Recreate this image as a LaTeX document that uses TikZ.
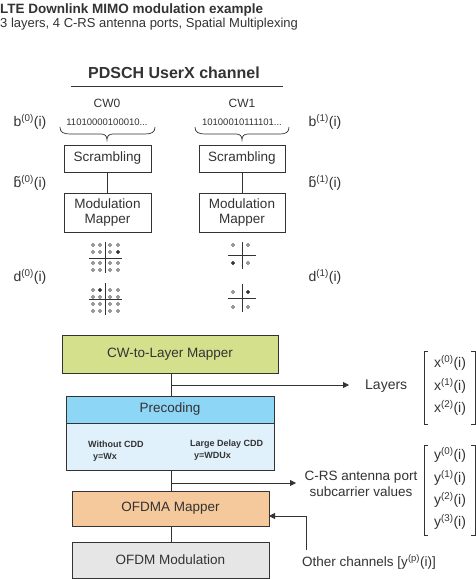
\documentclass[tikz,border=0pt]{standalone}
\usepackage{fontspec}
\setmainfont{Liberation Sans}
\usetikzlibrary{arrows.meta}
\definecolor{ink}{HTML}{333333}
\definecolor{cwlfill}{HTML}{D4E08C}
\definecolor{prechead}{HTML}{8ED6F5}
\definecolor{precbody}{HTML}{E0F1FB}
\definecolor{ofdmafill}{HTML}{F5C99B}
\definecolor{ofdmfill}{HTML}{E6E6E6}
\newcommand{\fsz}[1]{\fontsize{#1}{#1}\selectfont}
\newcommand{\tb}{\ooalign{b\cr\hidewidth\raisebox{0.08em}{\char"02DC}\hidewidth\cr}}
\tikzset{
  lbl/.style={inner sep=0pt, text=ink},
  procbox/.style={draw=ink, line width=0.8pt, inner sep=0pt, align=center, text=ink, font=\fsz{13.5}},
  wire/.style={draw=ink, line width=0.8pt},
  arr/.style={draw=ink, line width=0.8pt, -{Triangle[length=6pt,width=6pt]}},
  pt/.style={draw=ink, line width=0.5pt},
  ptf/.style={draw=ink, fill=ink, line width=0.5pt},
}
\begin{document}
\begin{tikzpicture}[x=1pt,y=-1pt]
\useasboundingbox (0,0) rectangle (476,579);
\fill[white] (0,0) rectangle (476,579);

% titles
\node[lbl, anchor=base west] (title) at (0,13) {\fsz{13.5}\bfseries LTE Downlink MIMO modulation example};
\node[lbl, anchor=base west] (sub) at (0,27) {\fsz{13}3 layers, 4 C-RS antenna ports, Spatial Multiplexing};
\node[lbl] (pdsch) at (174,73) {\fsz{16}\bfseries PDSCH UserX channel};
\draw[wire] (71,86) -- (283,86);

% codewords
\node[lbl] (cw0) at (107,103) {\fsz{12}CW0};
\node[lbl] (cw1) at (242,103) {\fsz{12}CW1};
\node[lbl] (bits0) at (107,122) {\fsz{9.5}11010000100010...};
\node[lbl] (bits1) at (242,122) {\fsz{9.5}10100010111101...};
\node[lbl] (b0) at (30,122) {\fsz{14}b\textsuperscript{(0)}(i)};
\node[lbl] (b1) at (325,122) {\fsz{14}b\textsuperscript{(1)}(i)};
\node[lbl] (bt0) at (30,183) {\fsz{14}\tb\textsuperscript{(0)}(i)};
\node[lbl] (bt1) at (325,183) {\fsz{14}\tb\textsuperscript{(1)}(i)};
\node[lbl] (d0) at (30,277) {\fsz{14}d\textsuperscript{(0)}(i)};
\node[lbl] (d1) at (325,277) {\fsz{14}d\textsuperscript{(1)}(i)};

% braces
\draw[wire, line width=0.7pt] (60,127) .. controls (60,132) and (63,134) .. (70,134) -- (101,134) .. controls (105,134) and (107,136) .. (107,140) .. controls (107,136) and (109,134) .. (113,134) -- (145,134) .. controls (152,134) and (155,132) .. (155,127);
\draw[wire, line width=0.7pt] (195,127) .. controls (195,132) and (198,134) .. (205,134) -- (236,134) .. controls (240,134) and (242,136) .. (242,140) .. controls (242,136) and (244,134) .. (248,134) -- (280,134) .. controls (286,134) and (289,132) .. (289,127);

% boxes
\node[procbox, minimum width=87pt, minimum height=27pt] (scr0) at (107.5,158.5) {Scrambling};
\node[procbox, minimum width=86pt, minimum height=27pt] (scr1) at (242,158.5) {Scrambling};
\node[procbox, minimum width=87pt, minimum height=39pt] (mod0) at (107.5,212.5) {Modulation\\[2pt]Mapper};
\node[procbox, minimum width=86pt, minimum height=39pt] (mod1) at (242,212.5) {Modulation\\[2pt]Mapper};
\draw[wire] (scr0) -- (mod0);
\draw[wire] (scr1) -- (mod1);

% constellations 16QAM
\begin{scope}[shift={(105,258)}]
  \draw[wire] (-16,0) -- (17,0); \draw[wire] (0,-16) -- (0,15);
  \foreach \xx in {-12,-5,5,13} \foreach \yy in {-13,-6,5,12} \draw[pt] (\xx,\yy) circle (1.5);
  \draw[ptf] (13,-6) circle (1.5);
\end{scope}
\begin{scope}[shift={(105,299)}]
  \draw[wire] (-16,0) -- (17,0); \draw[wire] (0,-16) -- (0,16);
  \foreach \xx in {-12,-5,5,13} \foreach \yy in {-9,-2,5,12} \draw[pt] (\xx,\yy) circle (1.5);
  \draw[ptf] (-5,-9) circle (1.5);
\end{scope}
% QPSK
\begin{scope}[shift={(242,255)}]
  \draw[wire] (-14,0) -- (14,0); \draw[wire] (0,-13) -- (0,14);
  \foreach \xx in {-9,6} \foreach \yy in {-10,8} \draw[pt] (\xx,\yy) circle (1.5);
  \draw[ptf] (-9,8) circle (1.5);
\end{scope}
\begin{scope}[shift={(242,298)}]
  \draw[wire] (-14,0) -- (14,0); \draw[wire] (0,-14) -- (0,14);
  \foreach \xx in {-9,6} \foreach \yy in {-6,9} \draw[pt] (\xx,\yy) circle (1.5);
  \draw[ptf] (6,-6) circle (1.5);
\end{scope}

% main chain
\node[procbox, fill=cwlfill, minimum width=216pt, minimum height=38pt] (cwl) at (170,354) {CW-to-Layer Mapper};
\node[procbox, fill=prechead, minimum width=208pt, minimum height=27pt] (prec) at (170,409.5) {Precoding};
\node[procbox, fill=precbody, minimum width=208pt, minimum height=47pt] (precb) at (170,446.5) {};
\node[lbl, anchor=base west] (wcdd) at (88,447) {\fsz{9}\bfseries Without CDD};
\node[lbl, anchor=base west] (wx) at (93,459) {\fsz{9}\bfseries y=Wx};
\node[lbl, anchor=base west] (lcdd) at (190,446) {\fsz{9}\bfseries Large Delay CDD};
\node[lbl, anchor=base west] (wdux) at (194,458) {\fsz{9}\bfseries y=WDUx};
\node[procbox, fill=ofdmafill, minimum width=197pt, minimum height=35pt] (ofdma) at (170.5,508.5) {OFDMA Mapper};
\node[procbox, fill=ofdmfill, minimum width=197pt, minimum height=36pt] (ofdm) at (170.5,560) {OFDM Modulation};

\draw[wire] (cwl.south -| 171,0) -- (prec.north -| 171,0);
\draw[wire] (precb.south -| 171,0) -- (ofdma.north -| 171,0);
\draw[wire] (ofdma.south -| 171,0) -- (ofdm.north -| 171,0);

\coordinate (j1) at (171,385);
\coordinate (a1) at (349,385);
\draw[arr] (j1) -- (a1);
\coordinate (j2) at (171,483);
\coordinate (a2) at (296,483);
\draw[arr] (j2) -- (a2);

\node[lbl, anchor=west] (layers) at (365,386) {\fsz{14}Layers};
\node[lbl, align=center, font=\fsz{13.5}] (crs) at (361,484) {C-RS antenna port\\[3pt]subcarrier values};
\node[lbl, anchor=west] (other) at (302,562) {\fsz{13.5}Other channels [y\textsuperscript{(p)}(i)]};
\coordinate (oc) at (306,550);
\coordinate (om) at (269,516);
\draw[arr] (oc) |- (om);

% x vector
\draw[wire] (428,351) -- (424,351) -- (424,424) -- (428,424);
\draw[wire] (471,351) -- (475,351) -- (475,424) -- (471,424);
\node[lbl] (x0) at (450,363) {\fsz{14}x\textsuperscript{(0)}(i)};
\node[lbl] (x1) at (450,386) {\fsz{14}x\textsuperscript{(1)}(i)};
\node[lbl] (x2) at (450,408) {\fsz{14}x\textsuperscript{(2)}(i)};
% y vector
\draw[wire] (428,445) -- (424,445) -- (424,535) -- (428,535);
\draw[wire] (471,445) -- (475,445) -- (475,535) -- (471,535);
\node[lbl] (y0) at (450,455) {\fsz{14}y\textsuperscript{(0)}(i)};
\node[lbl] (y1) at (450,478) {\fsz{14}y\textsuperscript{(1)}(i)};
\node[lbl] (y2) at (450,500) {\fsz{14}y\textsuperscript{(2)}(i)};
\node[lbl] (y3) at (450,522) {\fsz{14}y\textsuperscript{(3)}(i)};
\end{tikzpicture}
\end{document}
